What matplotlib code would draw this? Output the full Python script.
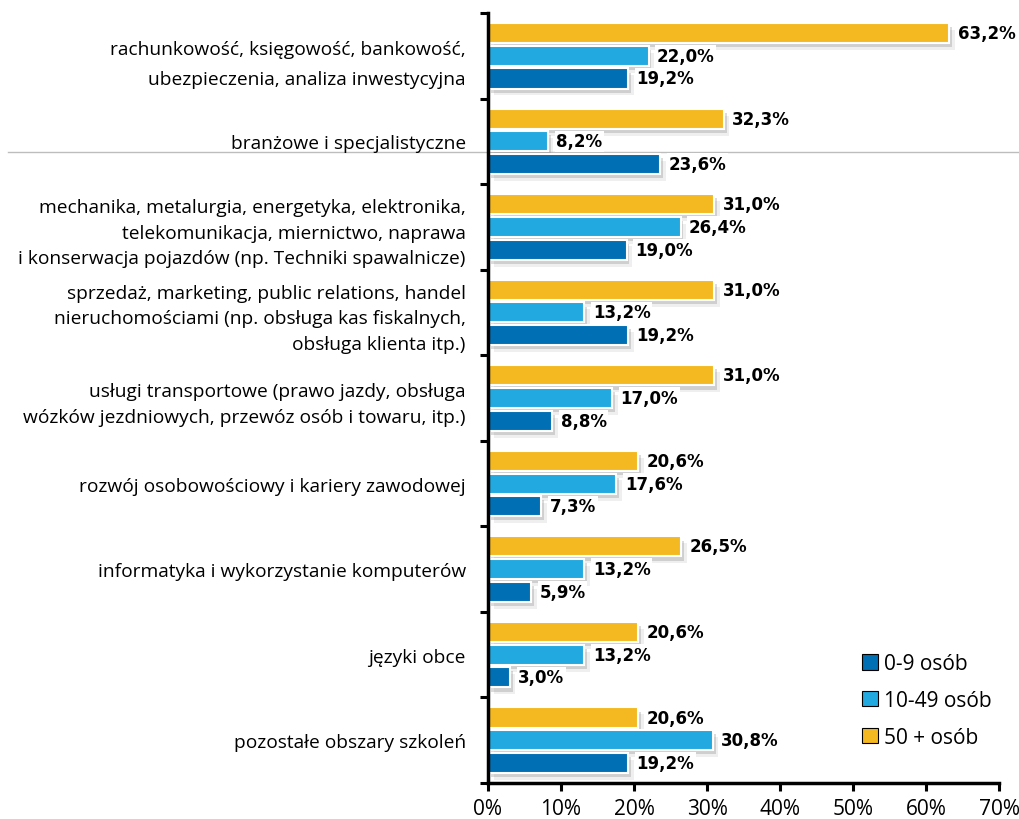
import matplotlib
matplotlib.use("Agg")
import matplotlib.pyplot as plt
import matplotlib.patheffects as pe
from matplotlib.lines import Line2D
from matplotlib.patches import Patch
import numpy as np

plt.rcParams['font.family'] = ['Open Sans', 'DejaVu Sans']

categories = [
    "rachunkowość, księgowość, bankowość,\nubezpieczenia, analiza inwestycyjna",
    "branżowe i specjalistyczne",
    "mechanika, metalurgia, energetyka, elektronika,\ntelekomunikacja, miernictwo, naprawa\ni konserwacja pojazdów (np. Techniki spawalnicze)",
    "sprzedaż, marketing, public relations, handel\nnieruchomościami (np. obsługa kas fiskalnych,\nobsługa klienta itp.)",
    "usługi transportowe (prawo jazdy, obsługa\nwózków jezdniowych, przewóz osób i towaru, itp.)",
    "rozwój osobowościowy i kariery zawodowej",
    "informatyka i wykorzystanie komputerów",
    "języki obce",
    "pozostałe obszary szkoleń",
]
series_names = ["0-9 osób", "10-49 osób", "50 + osób"]
small = [19.2, 23.6, 19.0, 19.2, 8.8, 7.3, 5.9, 3.0, 19.2]
medium = [22.0, 8.2, 26.4, 13.2, 17.0, 17.6, 13.2, 13.2, 30.8]
large = [63.2, 32.3, 31.0, 31.0, 31.0, 20.6, 26.5, 20.6, 20.6]
x_ticks = [0, 10, 20, 30, 40, 50, 60, 70]

colors = ["#006fb3", "#22a9df", "#f4b920"]

fig = plt.figure(figsize=(10.2, 8.2), dpi=100)
ax = fig.add_axes([488 / 1020, 1 - 784 / 820, (999 - 488) / 1020, (784 - 14) / 820])
ax.patch.set_visible(False)

n = len(categories)
y = np.arange(n)
off = 0.265
h = 0.235
shadow = [pe.SimplePatchShadow(offset=(4, -5), shadow_rgbFace="#999999", alpha=0.15),
          pe.SimplePatchShadow(offset=(2, -3), shadow_rgbFace="#888888", alpha=0.3),
          pe.Normal()]

# top-to-bottom within each group: 50+, 10-49, 0-9
for vals, c, dy in [(large, colors[2], -off), (medium, colors[1], 0.0), (small, colors[0], off)]:
    bars = ax.barh(y + dy, vals, height=h, color=c, edgecolor="white", linewidth=1.5, zorder=3)
    for b, v in zip(bars, vals):
        b.set_path_effects(shadow)
        ax.annotate(f"{v:.1f}%".replace(".", ","),
                    xy=(v, b.get_y() + b.get_height() / 2),
                    xytext=(6, 0), textcoords="offset points",
                    ha="left", va="center", fontsize=12, fontweight="bold",
                    family="DejaVu Sans", color="black", zorder=5,
                    bbox=dict(boxstyle="square,pad=0.1", fc="white", ec="none"))

ax.set_xlim(0, 70)
ax.set_ylim(n - 0.5, -0.5)
ax.set_xticks(x_ticks)
ax.set_xticklabels([f"{t}%" for t in x_ticks], fontsize=15)
ax.set_yticks(np.arange(n + 1) - 0.5)
ax.set_yticklabels([])
ax.set_yticks(y, minor=True)
labels = ax.set_yticklabels(categories, minor=True, fontsize=13.8, linespacing=1.55)
labels[0].set_linespacing(1.85)
ax.tick_params(axis="y", which="minor", length=0, pad=16)
ax.tick_params(axis="y", which="major", length=6, width=2.2, direction="out")
ax.tick_params(axis="x", length=6, width=2.2, direction="out", pad=5)

for s in ["top", "right"]:
    ax.spines[s].set_visible(False)
for s in ["left", "bottom"]:
    ax.spines[s].set_linewidth(2.5)
    ax.spines[s].set_zorder(6)

fig.add_artist(Line2D([8 / 1020, 1.0], [1 - 152.5 / 820] * 2, color="#bdbdbd", lw=1, zorder=-1))

handles = [Patch(facecolor=c, edgecolor="black", linewidth=0.8) for c in colors]
fig.legend(handles, series_names, loc="upper left", bbox_to_anchor=(854 / 1020, 1 - 646 / 820),
           frameon=False, fontsize=15, handlelength=0.75, handleheight=0.75,
           handletextpad=0.3, labelspacing=0.75, borderaxespad=0)

fig.savefig("out.png", dpi=100)
